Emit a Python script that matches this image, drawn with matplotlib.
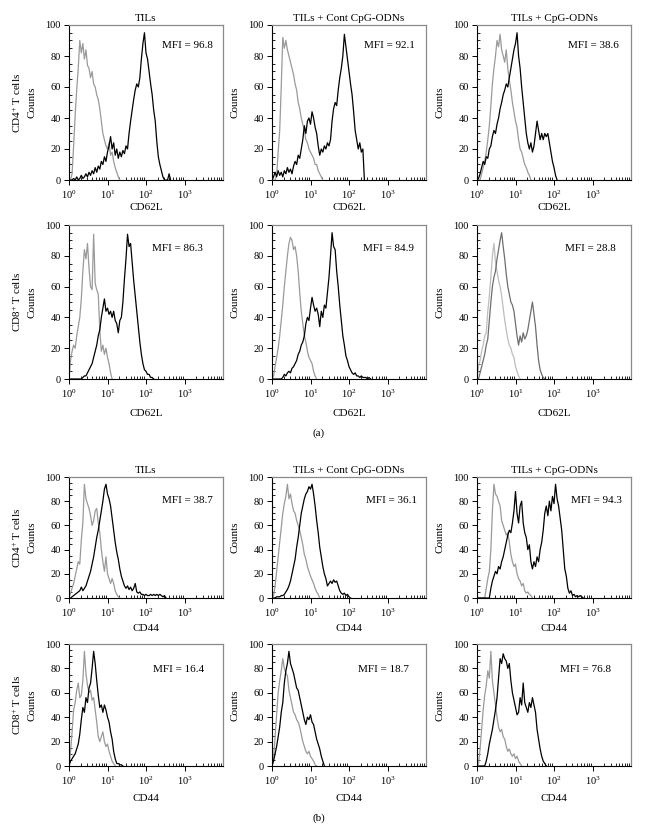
import numpy as np
import matplotlib
matplotlib.use('Agg')
import matplotlib.pyplot as plt
from matplotlib.ticker import MultipleLocator, LogLocator, NullFormatter, FixedLocator

plt.rcParams['font.family'] = ['Liberation Serif', 'DejaVu Serif']
plt.rcParams['mathtext.fontset'] = 'custom'
plt.rcParams['mathtext.rm'] = 'Liberation Serif'
plt.rcParams['mathtext.it'] = 'Liberation Serif:italic'
plt.rcParams['mathtext.bf'] = 'Liberation Serif:bold'

# ---------------- data ----------------
# histogram channel grid (log10 of fluorescence), 0.04 decade per channel
log_channel = np.arange(0, 72) * 0.04

titles = ["TILs", "TILs + Cont CpG-ODNs", "TILs + CpG-ODNs"]
row_markers = ["CD62L", "CD62L", "CD44", "CD44"]
row_cells = ["CD4$^{+}$ T cells", "CD8$^{+}$ T cells", "CD4$^{+}$ T cells", "CD8$^{+}$ T cells"]
mfi = [[96.8, 92.1, 38.6],
       [86.3, 84.9, 28.8],
       [38.7, 36.1, 94.3],
       [16.4, 18.7, 76.8]]
panel_labels = ["(a)", "(b)"]

# row 1: CD4+ CD62L
a1_iso = [0, 0, 4, 22, 42, 58, 72, 90, 82, 88, 78, 84, 74, 72, 66, 70, 62, 60, 55, 52,
          46, 38, 30, 26, 22, 20, 24, 16, 18, 12, 8, 5, 2, 0]
a1_stain = [0, 0, 0, 1, 0, 2, 0, 1, 3, 1, 2, 4, 2, 5, 3, 6, 4, 8, 5, 9,
            7, 12, 10, 15, 12, 18, 22, 28, 20, 24, 16, 20, 14, 18, 15, 19, 17, 22, 20, 30,
            38, 45, 52, 58, 62, 60, 66, 78, 88, 95, 82, 78, 70, 62, 55, 45, 38, 25, 15, 10,
            6, 2, 0, 0, 0, 4, 0]
a2_iso = [0, 0, 0, 3, 18, 32, 60, 92, 85, 90, 84, 80, 76, 72, 68, 62, 58, 50, 46, 40,
          36, 32, 26, 24, 20, 18, 16, 14, 10, 10, 6, 4, 2, 0]
a2_stain = [0, 2, 5, 2, 6, 3, 5, 2, 6, 4, 8, 5, 7, 4, 9, 12, 10, 16, 14, 20,
            26, 35, 30, 38, 40, 36, 44, 40, 34, 30, 22, 16, 20, 18, 22, 20, 24, 22, 26, 38,
            46, 50, 48, 58, 66, 72, 80, 94, 86, 78, 70, 62, 55, 44, 32, 26, 20, 24, 18, 20, 0]
a3_iso = [0, 0, 0, 4, 8, 12, 18, 26, 35, 48, 62, 72, 80, 90, 86, 94, 84, 80, 76, 84,
          72, 64, 58, 50, 44, 38, 34, 26, 20, 18, 14, 10, 8, 5, 3, 0]
a3_stain = [0, 1, 4, 8, 12, 10, 15, 14, 20, 22, 28, 32, 30, 36, 40, 46, 50, 55, 58, 62,
            60, 66, 72, 78, 84, 88, 95, 80, 72, 60, 50, 40, 30, 24, 20, 24, 18, 22, 30, 38,
            32, 26, 30, 26, 30, 28, 30, 24, 18, 12, 8, 3, 0]

# row 2: CD8+ CD62L
b1_iso = [0, 12, 18, 22, 20, 28, 34, 40, 52, 70, 84, 78, 88, 72, 60, 58, 94, 62, 58, 55,
          32, 18, 22, 16, 20, 14, 10, 4, 0]
b1_stain = [0, 0, 0, 0, 0, 0, 0, 0, 0, 1, 2, 2, 4, 6, 8, 10, 14, 18, 22, 28,
            32, 40, 46, 52, 44, 46, 42, 44, 40, 44, 38, 36, 30, 38, 40, 50, 65, 78, 94, 86,
            88, 76, 64, 54, 44, 34, 24, 16, 10, 6, 5, 3, 3, 1, 1, 0]
b2_iso = [0, 2, 8, 14, 20, 28, 38, 48, 60, 70, 80, 88, 92, 90, 84, 86, 80, 70, 56, 44,
          36, 28, 24, 18, 14, 12, 10, 5, 2, 0]
b2_stain = [0, 0, 0, 0, 0, 0, 0, 1, 3, 2, 4, 5, 4, 7, 8, 10, 12, 16, 18, 22,
            24, 28, 36, 40, 38, 46, 53, 48, 44, 46, 42, 34, 44, 40, 48, 46, 56, 66, 80, 95,
            86, 84, 70, 60, 48, 38, 28, 22, 15, 12, 8, 6, 4, 3, 4, 2, 2, 1, 2, 1,
            1, 1, 0, 1, 0]
b3_iso = [0, 8, 12, 18, 22, 28, 30, 44, 54, 66, 80, 88, 76, 70, 64, 60, 54, 46, 38, 32,
          26, 22, 20, 16, 14, 8, 5, 2, 0]
b3_stain = [0, 0, 4, 8, 12, 16, 22, 26, 38, 50, 60, 66, 70, 78, 84, 90, 95, 86, 78, 68,
            60, 55, 50, 48, 44, 36, 28, 22, 28, 24, 30, 26, 28, 32, 38, 44, 50, 42, 34, 22,
            12, 6, 3, 1, 0]

# row 3: CD4+ CD44
c1_iso = [0, 4, 8, 12, 18, 24, 30, 28, 48, 62, 94, 82, 78, 74, 68, 60, 64, 72, 74, 62,
          54, 40, 30, 22, 34, 20, 16, 12, 16, 12, 6, 3, 1, 0]
c1_stain = [0, 0, 1, 2, 3, 4, 5, 6, 9, 6, 8, 10, 14, 18, 22, 28, 34, 42, 50, 56,
            64, 72, 80, 90, 94, 86, 82, 76, 66, 56, 46, 38, 32, 24, 18, 14, 10, 8, 10, 7,
            9, 6, 8, 12, 5, 4, 5, 3, 3, 2, 3, 2, 2, 3, 2, 3, 2, 3, 2, 3,
            2, 1, 2, 0]
c2_iso = [0, 2, 10, 22, 34, 46, 58, 70, 78, 84, 94, 82, 86, 78, 72, 70, 64, 60, 56, 50,
          44, 36, 32, 26, 22, 18, 15, 12, 8, 5, 3, 0]
c2_stain = [0, 0, 0, 1, 1, 1, 2, 2, 3, 5, 7, 10, 14, 20, 26, 32, 42, 50, 60, 70,
            76, 82, 86, 88, 92, 90, 94, 86, 76, 64, 54, 42, 34, 26, 20, 16, 10, 12, 14, 12,
            15, 13, 14, 10, 6, 4, 3, 4, 2, 3, 1, 0]
c3_iso = [0, 0, 0, 0, 0, 0, 8, 16, 22, 40, 72, 94, 86, 84, 80, 76, 64, 60, 56, 52,
          54, 46, 36, 30, 26, 28, 20, 16, 14, 10, 12, 6, 4, 5, 3, 2, 0]
c3_stain = [0, 0, 0, 0, 0, 0, 0, 0, 0, 8, 14, 18, 22, 20, 26, 24, 30, 34, 40, 46,
            52, 56, 54, 62, 72, 88, 70, 62, 76, 80, 62, 54, 50, 40, 44, 30, 24, 30, 26, 34,
            30, 40, 46, 56, 70, 76, 68, 80, 72, 84, 78, 94, 82, 76, 66, 56, 40, 24, 18, 8,
            4, 6, 2, 3, 1, 2, 1, 2, 1, 0]

# row 4: CD8+ CD44
d1_iso = [0, 12, 28, 46, 52, 62, 68, 56, 58, 70, 94, 76, 66, 60, 62, 54, 56, 46, 36, 24,
          20, 24, 28, 20, 16, 18, 12, 8, 4, 2, 0]
d1_stain = [0, 4, 6, 8, 10, 14, 18, 26, 38, 48, 44, 56, 52, 64, 68, 80, 94, 84, 70, 58,
            48, 50, 44, 50, 46, 40, 36, 28, 22, 12, 6, 2, 2, 1, 1, 0]
d2_iso = [0, 6, 24, 42, 60, 70, 78, 88, 80, 76, 74, 62, 56, 50, 44, 42, 38, 36, 32, 26,
          20, 16, 12, 10, 12, 8, 6, 4, 1, 0]
d2_stain = [0, 4, 10, 16, 24, 32, 44, 52, 68, 78, 84, 94, 84, 80, 76, 70, 64, 62, 56, 50,
            44, 38, 34, 40, 38, 42, 36, 34, 28, 22, 18, 14, 8, 4, 0]
d3_iso = [0, 2, 14, 30, 46, 58, 66, 78, 72, 94, 70, 60, 50, 40, 32, 28, 30, 24, 22, 16,
          12, 14, 10, 8, 10, 6, 8, 4, 2, 0]
d3_stain = [0, 0, 0, 0, 0, 0, 4, 10, 18, 24, 30, 38, 46, 56, 72, 88, 84, 92, 88, 86,
            80, 84, 70, 60, 54, 48, 42, 44, 56, 50, 68, 52, 48, 44, 52, 48, 56, 50, 44, 30,
            22, 14, 8, 4, 2, 0]

isotype = [[a1_iso, a2_iso, a3_iso], [b1_iso, b2_iso, b3_iso],
           [c1_iso, c2_iso, c3_iso], [d1_iso, d2_iso, d3_iso]]
stained = [[a1_stain, a2_stain, a3_stain], [b1_stain, b2_stain, b3_stain],
           [c1_stain, c2_stain, c3_stain], [d1_stain, d2_stain, d3_stain]]

# ---------------- layout ----------------
W, H = 647, 830
fig = plt.figure(figsize=(W / 100, H / 100), dpi=100)

col_left = [69, 272, 477]
ax_w = 154
row_top = [25, 225, 477, 644]
row_h = [155, 154, 121, 122]
xlabel_off = [28, 34, 30, 32]
mfi_right = [[10, 11, 12], [20, 12, 15], [10, 9, 9], [19, 17, 20]]
mfi_down = [21, 23, 23, 26]

iso_col = '#9a9a9a'
stain_col = '#000000'

for r in range(4):
    for c in range(3):
        left = col_left[c] / W
        bottom = 1 - (row_top[r] + row_h[r]) / H
        ax = fig.add_axes([left, bottom, ax_w / W, row_h[r] / H])
        iso = np.array(isotype[r][c], dtype=float)
        st = np.array(stained[r][c], dtype=float)
        if r == 1 and c == 2:
            ci, cs = '#bdbdbd', '#6e6e6e'
        else:
            ci, cs = iso_col, stain_col
        ax.plot(10 ** log_channel[:len(iso)], iso, color=ci, lw=0.9)
        ax.plot(10 ** log_channel[:len(st)], st, color=cs, lw=0.9)
        ax.set_xscale('log')
        ax.set_xlim(1, 1e4)
        ax.set_ylim(0, 100)
        ax.xaxis.set_major_locator(FixedLocator([1, 10, 100, 1000]))
        ax.xaxis.set_minor_locator(LogLocator(base=10, subs=np.arange(2, 10), numticks=20))
        ax.xaxis.set_minor_formatter(NullFormatter())
        ax.yaxis.set_major_locator(MultipleLocator(20))
        ax.yaxis.set_minor_locator(MultipleLocator(5))
        ax.tick_params(which='major', direction='out', length=3.5, width=0.7,
                       labelsize=7.5, pad=2.5)
        ax.tick_params(which='minor', direction='in', length=2, width=0.6)
        for s in ['top', 'right']:
            ax.spines[s].set_color('#8a8a8a')
            ax.spines[s].set_linewidth(0.9)
        for s in ['left', 'bottom']:
            ax.spines[s].set_linewidth(0.8)
        if r in (0, 2):
            ax.set_title(titles[c], fontsize=8, pad=3)
        ax.text(-37 / ax_w, 0.5, 'Counts', transform=ax.transAxes, rotation=90,
                ha='center', va='center', fontsize=8)
        if c == 0:
            ax.text(-52 / ax_w, 0.5, row_cells[r], transform=ax.transAxes, rotation=90,
                    ha='center', va='center', fontsize=8)
        ax.text(0.5, -xlabel_off[r] / row_h[r], row_markers[r], transform=ax.transAxes,
                ha='center', va='center', fontsize=8)
        ax.annotate(f"MFI = {mfi[r][c]}", xy=(1, 1), xycoords='axes fraction',
                    xytext=(-mfi_right[r][c], -mfi_down[r]), textcoords='offset pixels',
                    ha='right', va='center', fontsize=8)

fig.text(319 / W, 1 - 433 / H, panel_labels[0], ha='center', va='center', fontsize=8)
fig.text(319 / W, 1 - 818 / H, panel_labels[1], ha='center', va='center', fontsize=8)

fig.savefig('out.png', dpi=100)
